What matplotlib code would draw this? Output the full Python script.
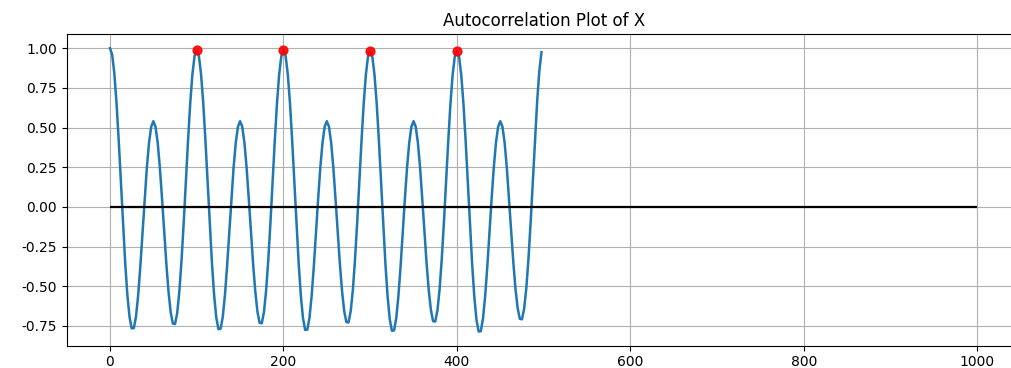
import numpy as np
import matplotlib
matplotlib.use('Agg')
from matplotlib import pyplot as plt

# autocorrelation of X, sampled every 2.5 lags (one row per 100 lags)
lag_step = 2.5
acf_0 = [1.000, 0.959, 0.842, 0.658, 0.424, 0.163, -0.103, -0.349, -0.552, -0.692,
         -0.765, -0.763, -0.690, -0.555, -0.372, -0.163, 0.052, 0.248, 0.404, 0.505,
         0.540, 0.505, 0.404, 0.248, 0.052, -0.158, -0.360, -0.535, -0.665, -0.735,
         -0.738, -0.668, -0.530, -0.335, -0.098, 0.160, 0.420, 0.652, 0.835, 0.950]
acf_1 = [0.990, 0.950, 0.835, 0.655, 0.422, 0.162, -0.103, -0.349, -0.552, -0.695,
         -0.770, -0.768, -0.694, -0.557, -0.373, -0.163, 0.052, 0.248, 0.404, 0.505,
         0.540, 0.505, 0.404, 0.248, 0.052, -0.157, -0.358, -0.532, -0.660, -0.730,
         -0.733, -0.663, -0.527, -0.333, -0.098, 0.158, 0.418, 0.650, 0.832, 0.948]
acf_2 = [0.990, 0.950, 0.835, 0.655, 0.422, 0.162, -0.104, -0.352, -0.556, -0.700,
         -0.775, -0.773, -0.698, -0.560, -0.375, -0.163, 0.052, 0.248, 0.404, 0.505,
         0.540, 0.505, 0.404, 0.248, 0.052, -0.156, -0.356, -0.528, -0.655, -0.725,
         -0.728, -0.658, -0.524, -0.331, -0.097, 0.158, 0.418, 0.650, 0.832, 0.948]
acf_3 = [0.985, 0.945, 0.830, 0.652, 0.420, 0.160, -0.105, -0.354, -0.560, -0.705,
         -0.780, -0.778, -0.702, -0.563, -0.377, -0.163, 0.052, 0.248, 0.404, 0.505,
         0.540, 0.505, 0.404, 0.248, 0.052, -0.155, -0.354, -0.524, -0.650, -0.720,
         -0.722, -0.652, -0.520, -0.328, -0.096, 0.158, 0.416, 0.648, 0.830, 0.946]
acf_4 = [0.985, 0.945, 0.830, 0.652, 0.420, 0.160, -0.106, -0.356, -0.563, -0.710,
         -0.785, -0.783, -0.706, -0.566, -0.378, -0.163, 0.052, 0.248, 0.404, 0.505,
         0.540, 0.505, 0.404, 0.248, 0.052, -0.152, -0.348, -0.515, -0.638, -0.705,
         -0.708, -0.640, -0.512, -0.325, -0.096, 0.160, 0.425, 0.665, 0.858, 0.975]

# detected peaks (lags) and total lag range for the zero line
peak_lags = [100, 200, 300, 400]
max_lag = 1000

acf = np.array(acf_0 + acf_1 + acf_2 + acf_3 + acf_4)
lags = np.arange(len(acf)) * lag_step
peak_idx = [int(p / lag_step) for p in peak_lags]

fig = plt.figure(figsize=(10.11, 3.68), dpi=100)
# axes runs a little past the right edge of the canvas
ax = fig.add_axes([0.0659, 0.0606, 0.9437, 0.847])

ax.plot(lags, acf, color='tab:blue', lw=1.8, solid_joinstyle='round')
ax.scatter(lags[peak_idx], acf[peak_idx], color='red', s=40, alpha=0.9, zorder=3)
ax.hlines(0, 0, max_lag, color='black', lw=1.6)

ax.grid(True)
ax.set_xticks([0, 200, 400, 600, 800, 1000])
ax.set_yticks([-0.75, -0.5, -0.25, 0, 0.25, 0.5, 0.75, 1.0])
ax.yaxis.set_major_formatter(matplotlib.ticker.FormatStrFormatter('%.2f'))
ax.set_title('Autocorrelation Plot of X')

fig.savefig('out.png', dpi=100)
plt.close(fig)
